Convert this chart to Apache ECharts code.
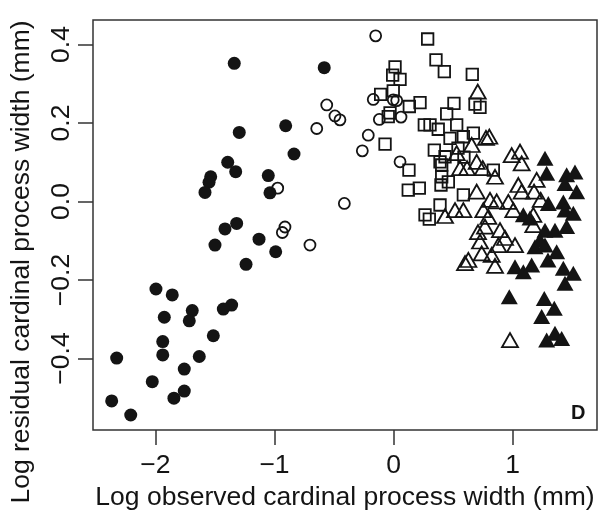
<!DOCTYPE html>
<html>
<head>
<meta charset="utf-8">
<script src="https://cdn.jsdelivr.net/npm/echarts@6/dist/echarts.min.js"></script>
<style>
  html, body { margin: 0; padding: 0; background: #fff; }
  #chart { width: 603px; height: 511px; }
</style>
</head>
<body>
<div id="chart"></div>
<script>
// Log observed width (x) vs log residual width (y), one array pair per group.

const filledCircleX = [-1.338, -0.582, -0.906, -1.296, -0.836, -1.393, -1.326, -1.052, -1.038, -1.536, -1.550, -1.584,
  -1.318, -1.416, -1.500, -1.130, -0.990, -1.239, -1.996, -1.859, -1.691, -1.716, -1.926, -1.360, -1.430,
  -1.514, -1.939, -1.939, -2.326, -1.632, -1.758, -2.027, -1.758, -1.845, -2.368, -2.208];
const filledCircleY = [0.352, 0.341, 0.193, 0.176, 0.121, 0.100, 0.076, 0.066, 0.022, 0.063, 0.049, 0.023,
  -0.056, -0.070, -0.111, -0.096, -0.128, -0.160, -0.223, -0.238, -0.278, -0.304, -0.295, -0.264, -0.274,
  -0.342, -0.357, -0.391, -0.399, -0.395, -0.427, -0.459, -0.483, -0.501, -0.508, -0.544];

const openCircleX = [-0.150, -0.561, -0.492, -0.450, -0.645, -0.170, -0.002, 0.027, -0.119, 0.063, -0.212, -0.262,
  0.055, -0.413, -0.973, -0.912, -0.934, -0.702];
const openCircleY = [0.422, 0.246, 0.218, 0.208, 0.186, 0.260, 0.259, 0.257, 0.209, 0.215, 0.169, 0.129,
  0.101, -0.005, 0.034, -0.065, -0.079, -0.111];

const squareX = [0.287, 0.357, 0.427, 0.662, 0.013, -0.007, 0.055, -0.108, -0.002, 0.223, 0.133, 0.508, 0.685, 0.727,
  0.447, -0.029, -0.044, 0.259, 0.307, 0.376, 0.531, 0.475, 0.587, 0.671, -0.071, 0.343, 0.433, 0.391, 0.405,
  0.839, 0.130, 0.124, 0.217, 0.405, 0.399, 0.461, 0.587, 0.391, 0.265, 0.301, 0.592, 0.542];
const squareY = [0.414, 0.361, 0.331, 0.324, 0.343, 0.322, 0.311, 0.273, 0.282, 0.252, 0.242, 0.250, 0.248, 0.240,
  0.223, 0.226, 0.216, 0.195, 0.195, 0.184, 0.195, 0.161, 0.165, 0.174, 0.146, 0.131, 0.114, 0.101, 0.093,
  0.080, 0.080, 0.029, 0.034, 0.063, 0.042, 0.050, 0.017, -0.009, -0.034, -0.045, 0.113, 0.136];

const openTriangleX = [0.708, 0.805, 0.777, 0.657, 0.531, 0.699, 0.559, 0.618, 0.750, 0.853, 0.699, 0.993, 1.063,
  1.077, 1.203, 1.049, 1.077, 1.181, 1.237, 0.965, 0.811, 0.755, 0.517, 0.587, 0.433, 0.797, 1.007, 0.867,
  0.769, 0.895, 1.175, 1.175, 0.727, 0.881, 0.741, 0.825, 0.629, 0.601, 0.853, 1.021, 0.979, 0.710, 0.937];
const openTriangleY = [0.280, 0.165, 0.162, 0.144, 0.123, 0.101, 0.085, 0.085, 0.085, 0.063, 0.025, 0.118, 0.127,
  0.097, 0.055, 0.042, 0.025, 0.025, 0.004, -0.001, 0.004, -0.022, -0.022, -0.022, -0.037, -0.039, -0.022, 0.000,
  -0.064, -0.073, -0.034, -0.060, -0.102, -0.111, -0.132, -0.136, -0.149, -0.157, -0.164, -0.111, -0.353, -0.078, -0.093];

const filledTriangleX = [1.273, 1.287, 1.455, 1.441, 1.539, 1.301, 1.427, 1.441, 1.091, 1.147, 1.511, 1.273, 1.357,
  1.455, 1.021, 1.091, 1.161, 1.189, 1.273, 1.371, 1.427, 1.511, 1.441, 0.973, 1.267, 1.351, 1.245, 1.357,
  1.287, 1.413, 1.231, 1.525, 1.298];
const filledTriangleY = [0.110, 0.072, 0.068, 0.046, 0.025, -0.005, -0.001, -0.022, -0.034, -0.042, -0.030, -0.073,
  -0.073, -0.064, -0.166, -0.179, -0.162, -0.115, -0.111, -0.128, -0.170, -0.183, -0.208, -0.243, -0.247, -0.272,
  -0.293, -0.336, -0.353, -0.349, -0.098, 0.075, -0.149];

const xTicks = [-2, -1, 0, 1];
const yTicks = [-0.4, -0.2, 0, 0.2, 0.4];

const xTitle = 'Log observed cardinal process width (mm)';
const yTitle = 'Log residual cardinal process width (mm)';
const panelLetter = 'D';

const ink = '#141414';
const font = '"Liberation Sans", Arial, Helvetica, sans-serif';
const textSize = 26.5;

function pairs(xs, ys) {
  return xs.map((x, i) => [x, ys[i]]);
}
function minusSign(s) {
  return s.replace('-', '\u2212');
}

const chart = echarts.init(document.getElementById('chart'), null, { renderer: 'canvas' });

const hollow = { color: 'rgba(0,0,0,0)', borderColor: ink, borderWidth: 1.8, opacity: 1 };
const solid = { color: ink, borderWidth: 0, opacity: 1 };

chart.setOption({
  animation: false,
  backgroundColor: '#ffffff',
  grid: {
    left: 93, top: 20, width: 504, height: 410,
    show: true, borderColor: '#333', borderWidth: 1.5,
    backgroundColor: 'transparent',
    outerBoundsMode: 'none'
  },
  xAxis: {
    type: 'value',
    min: -2.525, max: 1.71,
    axisLine: { show: false, onZero: false },
    splitLine: { show: false },
    axisTick: { show: true, customValues: xTicks, length: 15, lineStyle: { color: '#333', width: 1.5 } },
    axisLabel: {
      customValues: xTicks, margin: 22,
      formatter: v => minusSign(String(v)),
      color: ink, fontSize: textSize, fontFamily: font
    },
    name: xTitle, nameLocation: 'middle', nameGap: 46,
    nameTextStyle: { color: ink, fontSize: textSize, fontFamily: font }
  },
  yAxis: {
    type: 'value',
    min: -0.5822, max: 0.4624,
    axisLine: { show: false, onZero: false },
    splitLine: { show: false },
    axisTick: { show: true, customValues: yTicks, length: 15, lineStyle: { color: '#333', width: 1.5 } },
    axisLabel: {
      customValues: yTicks, margin: 18, rotate: 90,
      formatter: v => minusSign(v.toFixed(1)),
      color: ink, fontSize: textSize, fontFamily: font
    }
  },
  graphic: [{
    type: 'text', x: 22, y: 262, rotation: Math.PI / 2,
    style: {
      text: yTitle, fill: ink, font: textSize + 'px ' + font,
      textAlign: 'center', textVerticalAlign: 'middle'
    }
  }, {
    type: 'text', left: 571, top: 403,
    style: { text: panelLetter, fill: ink, font: 'bold 20px ' + font }
  }],
  series: [
    { type: 'scatter', symbol: 'circle', symbolSize: 13, itemStyle: solid, data: pairs(filledCircleX, filledCircleY) },
    { type: 'scatter', symbol: 'circle', symbolSize: 11, itemStyle: hollow, data: pairs(openCircleX, openCircleY) },
    { type: 'scatter', symbol: 'rect', symbolSize: 11.5, itemStyle: hollow, data: pairs(squareX, squareY) },
    { type: 'scatter', symbol: 'triangle', symbolSize: [16, 14], itemStyle: hollow, data: pairs(openTriangleX, openTriangleY) },
    { type: 'scatter', symbol: 'triangle', symbolSize: [17, 15], itemStyle: solid, data: pairs(filledTriangleX, filledTriangleY) }
  ]
});
</script>
</body>
</html>
